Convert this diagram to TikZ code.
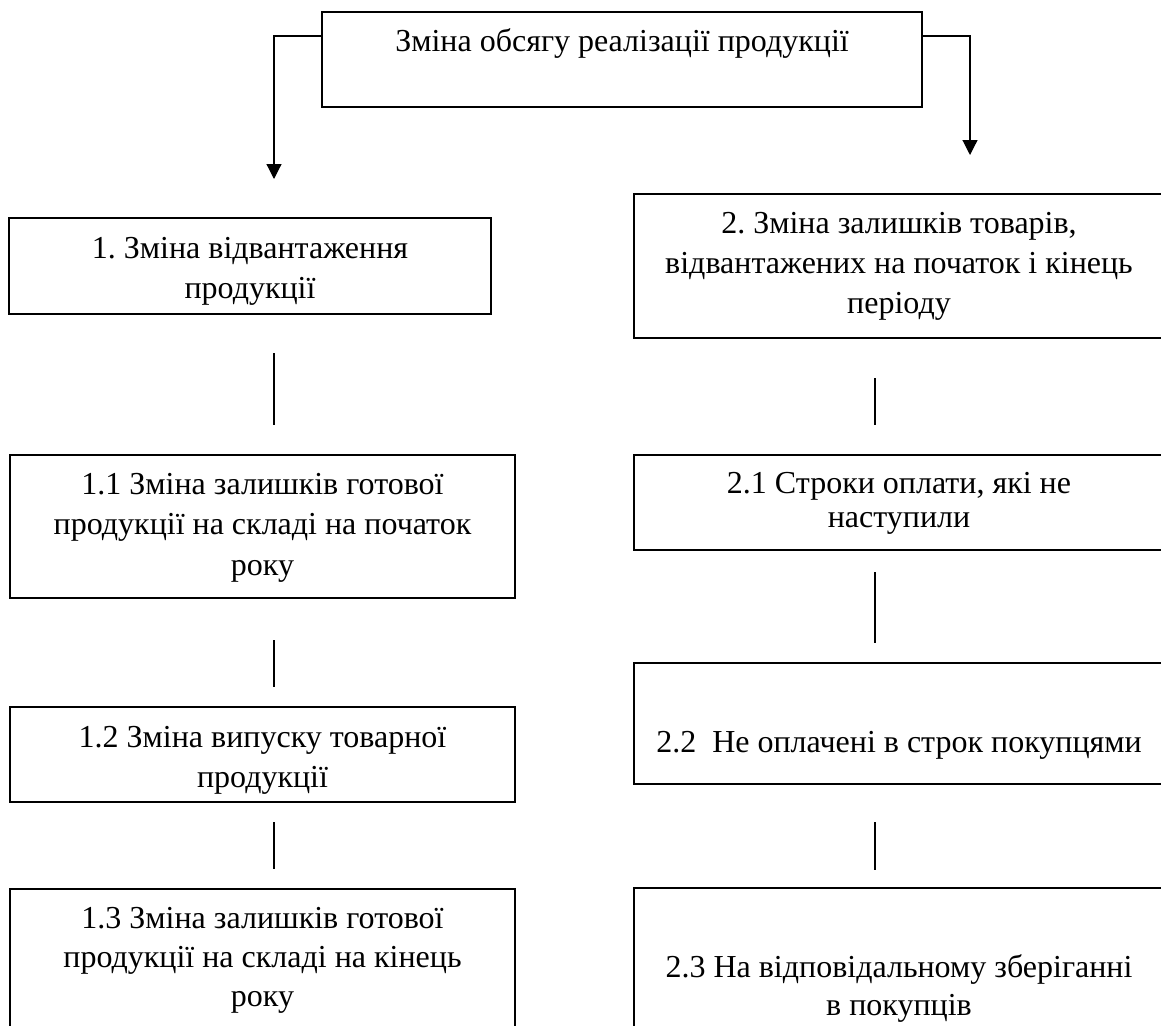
\documentclass[tikz,border=0pt]{standalone}
\usepackage{fontspec}
\setmainfont{Liberation Serif}
\usetikzlibrary{arrows.meta,fit}
\frenchspacing
\newcommand{\boxlines}[1]{\begin{tabular}[t]{@{}c@{}}#1\end{tabular}}
\begin{document}
\begin{tikzpicture}[x=1pt,y=-1pt,
  box/.style={draw, line width=1.3pt, inner sep=0pt, outer sep=0pt},
  txt/.style={anchor=base, inner sep=0pt, font=\fontsize{32}{40}\selectfont},
  link/.style={line width=1.2pt},
  arrowlink/.style={line width=1.2pt, -{Triangle[length=15pt,width=15pt]}}]
\path[use as bounding box, clip] (0,0) rectangle (1161,1025);
% boxes
\node[box, fit={(322,12) (922,107)}] (top) {};
\node[box, fit={(9,218) (491,314)}] (b1) {};
\node[box, fit={(10,455) (515,598)}] (b11) {};
\node[box, fit={(10,707) (515,802)}] (b12) {};
\node[box, fit={(10,889) (515,1045)}] (b13) {};
\node[box, fit={(634,194) (1180,338)}] (b2) {};
\node[box, fit={(634,455) (1180,550)}] (b21) {};
\node[box, fit={(634,663) (1180,784)}] (b22) {};
\node[box, fit={(634,888) (1180,1045)}] (b23) {};
% texts
\node[txt] (ttop) at (622,52) {Зміна обсягу реалізації продукції};
\node[txt] (t1) at (250,258) {\boxlines{1. Зміна відвантаження\\продукції}};
\node[txt, font=\fontsize{32}{40.5}\selectfont] (t11) at (262.5,494) {\boxlines{1.1 Зміна залишків готової\\продукції на складі на початок\\року}};
\node[txt] (t12) at (262.5,747) {\boxlines{1.2 Зміна випуску товарної\\продукції}};
\node[txt, font=\fontsize{32}{39}\selectfont] (t13) at (262.5,928) {\boxlines{1.3 Зміна залишків готової\\продукції на складі на кінець\\року}};
\node[txt] (t2) at (899,233) {\boxlines{2. Зміна залишків товарів,\\відвантажених на початок і кінець\\періоду}};
\node[txt, font=\fontsize{32}{34}\selectfont] (t21) at (899,493) {\boxlines{2.1 Строки оплати, які не\\наступили}};
\node[txt] (t22) at (899,752) {2.2~ Не оплачені в строк покупцями};
\node[txt, font=\fontsize{32}{38}\selectfont] (t23) at (899,977) {\boxlines{2.3 На відповідальному зберіганні\\в покупців}};
% arrow ends
\coordinate (la) at (274,179);
\coordinate (ra) at (970,155);
\draw[arrowlink] ([yshift=-24pt]top.north west) -| (la);
\draw[arrowlink] ([yshift=-24pt]top.north east) -| (ra);
% connector ends
\coordinate (l1a) at (274,353); \coordinate (l1b) at (274,425);
\coordinate (l2a) at (274,640); \coordinate (l2b) at (274,687);
\coordinate (l3a) at (274,822); \coordinate (l3b) at (274,869);
\coordinate (r1a) at (875,378); \coordinate (r1b) at (875,425);
\coordinate (r2a) at (875,572); \coordinate (r2b) at (875,643);
\coordinate (r3a) at (875,822); \coordinate (r3b) at (875,870);
\draw[link] (l1a) -- (l1b);
\draw[link] (l2a) -- (l2b);
\draw[link] (l3a) -- (l3b);
\draw[link] (r1a) -- (r1b);
\draw[link] (r2a) -- (r2b);
\draw[link] (r3a) -- (r3b);
\end{tikzpicture}
\end{document}
